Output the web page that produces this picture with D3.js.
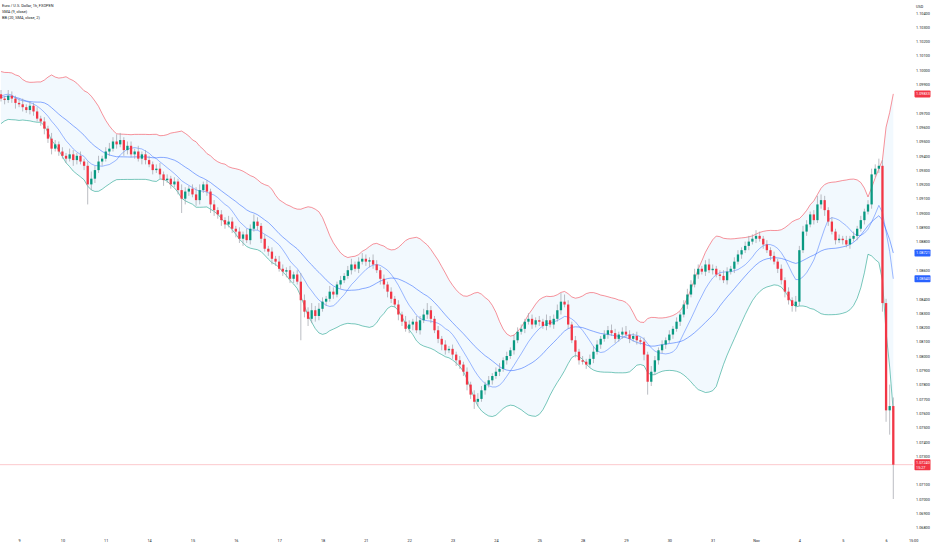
<!DOCTYPE html>
<html>
<head>
<meta charset="utf-8">
<script src="https://cdn.jsdelivr.net/npm/d3@7"></script>
<style>
  html, body { margin: 0; padding: 0; background: #fff; }
  svg { display: block; font-family: Roboto, "Noto Sans", sans-serif; }
</style>
</head>
<body>
<div class="vis-chart"></div>
<script>
// history before the visible window, only used to warm up the indicators
const priorCloses = [1.0966, 1.0972, 1.0985, 1.0992, 1.0988, 1.0995, 1.0990, 1.0983, 1.0976, 1.0968,
                     1.0964, 1.0970, 1.0978, 1.0986, 1.0993, 1.0989, 1.0981, 1.0975, 1.0983];

// visible candles, closes (open = previous close)
const closes = [
  1.0980, 1.0979, 1.0982, 1.0980, 1.0977, 1.0976, 1.0974, 1.0972, 1.0975, 1.0971, 1.0966, 1.0964,
  1.0959, 1.0952, 1.0945, 1.0948, 1.0943, 1.0940, 1.0938, 1.0941, 1.0937, 1.0940, 1.0936, 1.0933,
  1.0920, 1.0924, 1.0930, 1.0936, 1.0938, 1.0943, 1.0945, 1.0950, 1.0948, 1.0951, 1.0944, 1.0947,
  1.0941, 1.0943, 1.0938, 1.0941, 1.0937, 1.0934, 1.0930, 1.0931, 1.0927, 1.0923, 1.0924, 1.0920,
  1.0922, 1.0916, 1.0910, 1.0915, 1.0917, 1.0913, 1.0909, 1.0916, 1.0920, 1.0915, 1.0906, 1.0902,
  1.0899, 1.0895, 1.0892, 1.0894, 1.0889, 1.0887, 1.0882, 1.0885, 1.0881, 1.0889, 1.0894, 1.0891,
  1.0882, 1.0875, 1.0873, 1.0868, 1.0866, 1.0861, 1.0859, 1.0860, 1.0854, 1.0857, 1.0852, 1.0839,
  1.0831, 1.0826, 1.0832, 1.0828, 1.0833, 1.0838, 1.0840, 1.0845, 1.0843, 1.0850, 1.0853, 1.0856,
  1.0860, 1.0864, 1.0861, 1.0866, 1.0868, 1.0866, 1.0867, 1.0864, 1.0860, 1.0854, 1.0850, 1.0845,
  1.0840, 1.0836, 1.0829, 1.0824, 1.0819, 1.0822, 1.0824, 1.0818, 1.0825, 1.0829, 1.0832, 1.0826,
  1.0818, 1.0812, 1.0808, 1.0804, 1.0805, 1.0801, 1.0797, 1.0794, 1.0789, 1.0780, 1.0773, 1.0768,
  1.0770, 1.0776, 1.0780, 1.0783, 1.0786, 1.0789, 1.0791, 1.0797, 1.0800, 1.0804, 1.0811, 1.0817,
  1.0819, 1.0824, 1.0826, 1.0822, 1.0825, 1.0824, 1.0821, 1.0825, 1.0822, 1.0826, 1.0832, 1.0838,
  1.0836, 1.0822, 1.0811, 1.0803, 1.0797, 1.0796, 1.0794, 1.0798, 1.0803, 1.0808, 1.0812, 1.0815,
  1.0818, 1.0816, 1.0812, 1.0815, 1.0817, 1.0815, 1.0812, 1.0814, 1.0811, 1.0810, 1.0801, 1.0782,
  1.0789, 1.0797, 1.0804, 1.0808, 1.0811, 1.0815, 1.0819, 1.0824, 1.0829, 1.0836, 1.0843, 1.0850,
  1.0857, 1.0861, 1.0859, 1.0864, 1.0860, 1.0861, 1.0857, 1.0856, 1.0853, 1.0859, 1.0861, 1.0866,
  1.0871, 1.0874, 1.0877, 1.0880, 1.0882, 1.0884, 1.0882, 1.0878, 1.0874, 1.0870, 1.0866, 1.0861,
  1.0853, 1.0845, 1.0839, 1.0835, 1.0838, 1.0874, 1.0887, 1.0892, 1.0899, 1.0895, 1.0906, 1.0909,
  1.0902, 1.0894, 1.0887, 1.0881, 1.0882, 1.0881, 1.0878, 1.0882, 1.0884, 1.0889, 1.0895, 1.0901,
  1.0906, 1.0927, 1.0931, 1.0933, 1.0837, 1.0762, 1.0765, 1.0724
];

// wick lengths above / below the body, in pips
const highWicks = [
  3,2,4,3,2,3,4,2,3,2,3,2,  3,2,4,3,2,3,2,4,3,2,3,2,  3,5,3,4,2,3,4,3,5,5,2,3,
  3,2,4,2,3,3,2,3,4,2,3,2,  3,2,4,3,2,3,5,4,2,3,2,3,  2,3,2,4,3,2,3,2,4,3,5,3,
  2,3,2,3,2,4,3,2,3,2,3,6,  4,3,5,3,4,3,2,4,3,2,3,2,  3,4,2,3,4,3,2,4,3,2,3,2,
  3,2,3,2,4,3,2,4,3,4,5,3,  2,3,2,3,2,3,2,3,2,3,2,3,  4,3,2,3,2,3,4,2,3,2,4,3,
  3,2,4,3,2,3,2,4,3,3,4,6,  5,3,2,3,2,3,2,3,4,3,2,3,  3,4,3,2,3,4,3,2,3,2,3,2,
  4,3,2,3,2,3,2,3,2,3,4,3,  4,3,2,3,4,3,2,3,4,3,2,3,  3,2,3,4,3,4,3,2,3,2,3,2,
  3,2,3,2,4,3,4,3,2,3,6,4,  3,2,3,2,3,2,3,2,3,2,3,2,  3,4,3,5,4,3,15,6
];
const lowWicks = [
  2,3,2,3,4,2,3,2,3,3,2,3,  4,3,4,2,3,2,3,2,4,3,2,3,  14,4,3,2,3,2,3,2,3,2,4,3,
  2,3,2,4,3,2,3,2,3,4,2,3,  2,3,10,4,3,2,4,3,2,3,6,4,  3,4,3,2,3,4,3,5,2,3,2,3,
  3,2,3,4,3,2,3,4,3,3,2,28, 4,5,3,4,3,2,3,2,3,2,3,2,  2,3,2,3,2,3,4,3,2,4,3,4,
  3,2,4,3,2,3,4,2,3,2,3,3,  2,3,4,3,2,3,4,3,3,4,3,5,  3,2,3,2,3,2,3,2,3,2,3,2,
  2,3,2,3,2,3,2,3,2,3,2,3,  2,3,2,4,3,2,3,2,3,2,3,2,  3,2,3,2,3,2,3,2,3,2,4,9,
  3,2,3,2,3,2,3,2,3,2,3,2,  2,3,2,3,2,3,2,3,2,3,2,3,  2,3,2,3,2,3,2,3,2,3,2,3,
  3,4,3,4,4,3,2,3,2,3,2,3,  4,3,2,3,2,3,2,3,2,3,2,3,  2,3,2,3,6,8,17,24
];

// time axis
const dayLabels = ["9", "10", "11", "14", "15", "16", "17", "18", "21", "22", "23",
                   "24", "25", "28", "29", "30", "31", "Nov", "4", "5", "6"];
const firstDayIndex = 5;     // candle index of the "9" tick
const barsPerDay = 12;
const lastTimeLabel = "15:00";
const countdown = "15:27";

// price axis
const priceTicks = d3.range(1068, 1105).map(d => d / 1000);

const headerLines = ["Euro / U.S. Dollar, 1h, FXOPEN", "SMA (9, close)", "BB (20, SMA, close, 2)"];

const up = "#089981", down = "#f23645", blue = "#2962ff";

const width = 932, height = 550;
const plotRight = 913, plotBottom = 534;

let svg = d3.select(".vis-chart")
  .append("svg")
  .attr("width", width)
  .attr("height", height);

svg.append("rect").attr("width", width).attr("height", height).attr("fill", "#fff");

svg.append("clipPath").attr("id", "plot")
  .append("rect").attr("x", 0).attr("y", 0).attr("width", plotRight).attr("height", plotBottom);

let x = d3.scaleLinear().domain([0, 247]).range([1, 893.3]);
let y = d3.scaleLinear().domain([1.068, 1.104]).range([527.6, 12.8]);

// build candles
let all = priorCloses.concat(closes);
let off = priorCloses.length;
let bars = closes.map((c, i) => {
  let o = all[off + i - 1];
  return {
    i: i, o: o, c: c,
    h: Math.max(o, c) + highWicks[i] / 10000,
    l: Math.min(o, c) - lowWicks[i] / 10000
  };
});

// indicators
const sma = (n, k) => d3.mean(all.slice(k - n + 1, k + 1));
let ind = closes.map((c, i) => {
  let k = off + i;
  let basis = sma(20, k);
  let sd = d3.deviation(all.slice(k - 19, k + 1)) * Math.sqrt(19 / 20);
  return {i: i, sma9: sma(9, k), basis: basis, upper: basis + 2 * sd, lower: basis - 2 * sd};
});

let g = svg.append("g").attr("clip-path", "url(#plot)");

// band fill
g.append("path")
  .datum(ind)
  .attr("fill", "rgba(33,150,243,0.06)")
  .attr("d", d3.area().x(d => x(d.i)).y0(d => y(d.lower)).y1(d => y(d.upper)));

const lineFor = key => d3.line().x(d => x(d.i)).y(d => y(d[key]));
[["upper", down], ["lower", up], ["basis", blue], ["sma9", blue]].forEach(([k, col]) => {
  g.append("path").datum(ind)
    .attr("fill", "none").attr("stroke", col)
    .attr("stroke-width", 0.6).attr("stroke-opacity", k == "sma9" ? 0.75 : 0.9)
    .attr("d", lineFor(k));
});

// last price line
let last = bars[bars.length - 1];
g.append("line")
  .attr("x1", 0).attr("x2", plotRight)
  .attr("y1", y(last.c)).attr("y2", y(last.c))
  .attr("stroke", down).attr("stroke-opacity", 0.45).attr("stroke-width", 0.6);

// candles
let candle = g.selectAll(".candle").data(bars).enter().append("g").attr("class", "candle");
candle.append("line")
  .attr("x1", d => x(d.i)).attr("x2", d => x(d.i))
  .attr("y1", d => y(d.h)).attr("y2", d => y(d.l))
  .attr("stroke", "#9da1a9").attr("stroke-width", 0.7);
candle.append("rect")
  .attr("x", d => x(d.i) - 1.15)
  .attr("width", 2.3)
  .attr("y", d => y(Math.max(d.o, d.c)))
  .attr("height", d => Math.max(0.6, Math.abs(y(d.o) - y(d.c))))
  .attr("fill", d => d.c >= d.o ? up : down);

// header
svg.append("g").selectAll("text").data(headerLines).enter().append("text")
  .attr("x", 2).attr("y", (d, i) => 7 + i * 6)
  .attr("font-size", 3.9).attr("fill", "#131722")
  .text(d => d);

// price labels that cover axis ticks
let lastInd = ind[ind.length - 1];
let flags = [
  {v: lastInd.upper, col: down, text: lastInd.upper.toFixed(5)},
  {v: lastInd.basis, col: blue, text: lastInd.basis.toFixed(5)},
  {v: lastInd.sma9, col: blue, text: lastInd.sma9.toFixed(5)},
  {v: last.c, col: down, text: last.c.toFixed(5), sub: countdown}
];

// price axis
let yAxis = d3.axisRight(y)
  .tickValues(priceTicks.filter(t => !flags.some(f => Math.abs(y(t) - y(f.v)) < 7)))
  .tickFormat(d3.format(".5f"))
  .tickSize(0).tickPadding(0);
let ya = svg.append("g").attr("transform", "translate(916,0)").call(yAxis);
ya.select(".domain").remove();
ya.selectAll("text").attr("font-size", 3.8).attr("fill", "#131722").attr("font-family", "Roboto, sans-serif");

svg.append("text").attr("x", 916).attr("y", 7.5)
  .attr("font-size", 3.8).attr("fill", "#131722").text("USD");

flags.forEach(f => {
  let cy = y(f.v), h = f.sub ? 11 : 7;
  svg.append("rect")
    .attr("x", 914.5).attr("y", cy - (f.sub ? 5.5 : 3.5))
    .attr("width", 16).attr("height", h).attr("rx", 0.8)
    .attr("fill", f.col);
  svg.append("text").attr("x", 916).attr("y", f.sub ? cy - 0.6 : cy + 1.4)
    .attr("font-size", 3.8).attr("fill", "#fff").text(f.text);
  if (f.sub) {
    svg.append("text").attr("x", 916).attr("y", cy + 4)
      .attr("font-size", 3.8).attr("fill", "#fff").text(f.sub);
  }
});

// time axis
let dayIdx = dayLabels.map((d, k) => firstDayIndex + k * barsPerDay);
let xAxis = d3.axisBottom(x)
  .tickValues(dayIdx.concat([252.5]))
  .tickFormat((d, k) => k < dayLabels.length ? dayLabels[k] : lastTimeLabel)
  .tickSize(0).tickPadding(0);
let xa = svg.append("g").attr("transform", "translate(0,539)").call(xAxis);
xa.select(".domain").remove();
xa.selectAll("text").attr("font-size", 3.8).attr("fill", "#131722").attr("font-family", "Roboto, sans-serif");
</script>
</body>
</html>
